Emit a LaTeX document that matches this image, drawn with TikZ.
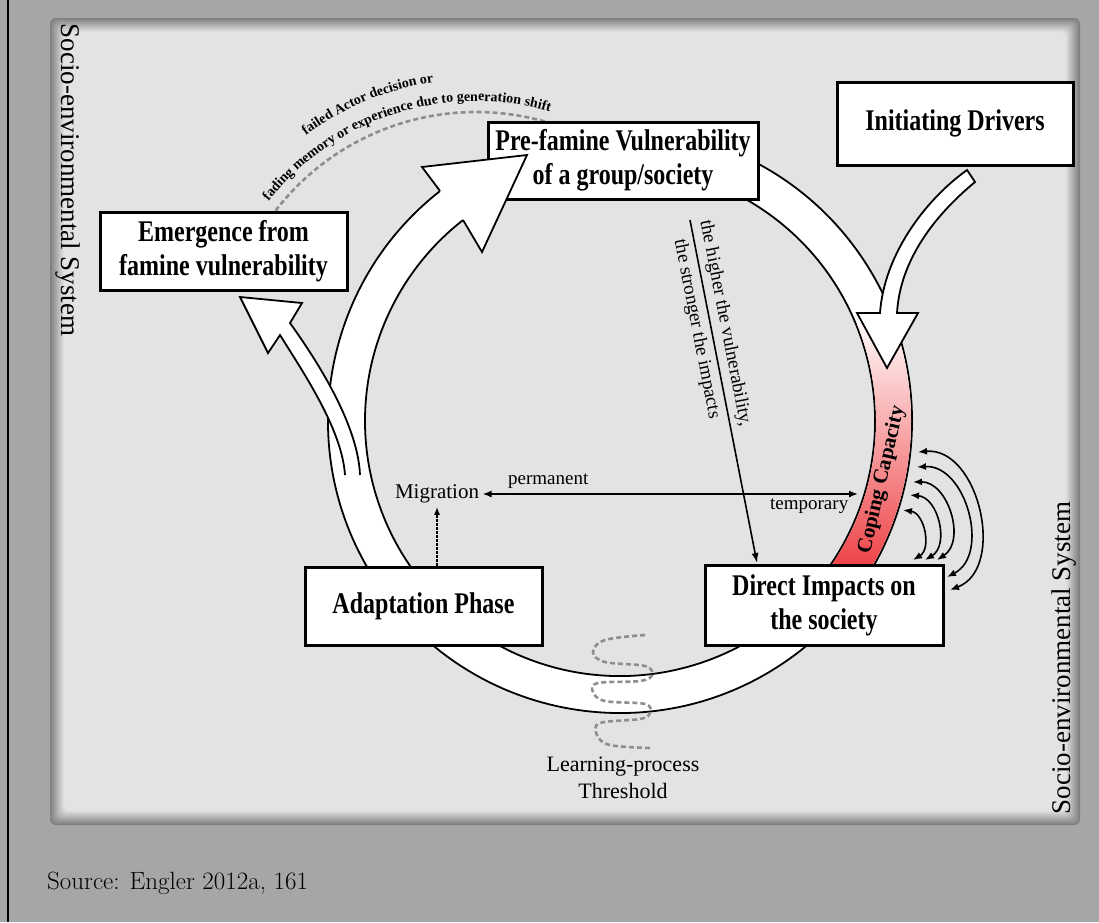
\documentclass[tikz,border=0pt]{standalone}
\usepackage{fontspec}
\newfontfamily\tnr{Liberation Serif}
\newfontfamily\boxfont[FakeStretch=0.8]{Liberation Serif}
\usetikzlibrary{arrows.meta,decorations.text,positioning}

\definecolor{framegray}{HTML}{A6A6A6}
\definecolor{coilgray}{HTML}{8E8E8E}
\definecolor{copered}{HTML}{EC2B2F}
\definecolor{copepink}{HTML}{F4A3A6}

\newcommand\curvefont{\tnr\bfseries\fontsize{14}{16}\selectfont}

\tikzset{
  phase/.style={draw, line width=3pt, fill=white, font=\boxfont\bfseries\fontsize{30}{34}\selectfont, align=center, inner sep=0pt},
  band/.style={draw, line width=1.8pt, fill=white},
  thin arrow/.style={line width=1.6pt, -{Latex[length=10pt,width=7pt]}},
  both arrow/.style={line width=1.6pt, {Latex[length=9pt,width=7pt]}-{Latex[length=9pt,width=7pt]}},
  dotted arrow/.style={line width=1.6pt, dash pattern=on 2.5pt off 1.5pt, -{Latex[length=8pt,width=6pt]}},
  dashgray/.style={draw=coilgray, line width=2.6pt, dash pattern=on 5pt off 3pt},
  small/.style={font=\tnr\fontsize{19}{21}\selectfont}
}

\begin{document}
\begin{tikzpicture}[x=1pt,y=-1pt]
\useasboundingbox (0,0) rectangle (1099,922);

% background and panel
\fill[framegray] (0,0) rectangle (1099,922);
\draw[line width=1.5pt] (8,0) -- (8,922);
\foreach \i in {0,...,14}{
  \pgfmathsetmacro\k{50-2.8*\i}
  \fill[black!\k, rounded corners=6pt] (50+\i,18+\i) rectangle (1080-\i,825-\i);
}

% the cycle ring
\filldraw[band] (620,421) ++(-125:292) arc[start angle=-125, end angle=-465, radius=292]
  -- ++(-465:-37) arc[start angle=-465, end angle=-125, radius=255] -- cycle;

% coping capacity part of the ring
\shade[top color=white, middle color=copepink, bottom color=copered]
  (620,421) ++(-22:291) arc[start angle=-22, end angle=38, radius=291]
  -- ++(38:-35) arc[start angle=38, end angle=-22, radius=256] -- cycle;

% branch arrow to emergence
\filldraw[band] (345,475) .. controls (342,430) and (305,375) .. (280,335) -- (268,353) -- (240,297)
  -- (302,303) -- (290,323) .. controls (318,362) and (358,425) .. (360,475);

% initiating drivers arrow
\filldraw[band] (880,313) .. controls (884,255) and (925,200) .. (967,170) -- (975,182)
  .. controls (935,215) and (900,260) .. (897,313) -- (918,313) -- (887,368) -- (857,313) -- cycle;

% learning threshold coil
\draw[dashgray] plot[smooth, tension=0.6] coordinates {(645,635) (605,640) (593,652) (605,662) (645,666)
  (652,675) (640,681) (598,683) (593,692) (605,701) (645,704) (650,713) (640,719) (600,723)
  (597,735) (610,745) (650,748)};

% generation shift
\begin{scope}[shift={(476,365)}]
  \draw[dashgray] (-142.4:253) coordinate (genstart) arc[start angle=-142.4, end angle=-74, radius=253] coordinate (genend);
  \path[decorate, decoration={text along path, text align=center,
    text={|\curvefont|fading memory or experience due to generation shift}}]
    (-147.8:264) arc[start angle=-147.8, end angle=-67.8, radius=264];
  \path[decorate, decoration={text along path, text align=center,
    text={|\curvefont|failed Actor decision or}}]
    (-142.5:286) arc[start angle=-142.5, end angle=-82.5, radius=286];
\end{scope}

% phases
\node[phase, minimum width=270pt, minimum height=77pt] (prefamine) at (623,160.5) {Pre-famine Vulnerability\\of a group/society};
\node[phase, minimum width=236pt, minimum height=83pt] (drivers) at (955,123.5) {Initiating Drivers};
\node[phase, minimum width=247pt, minimum height=78pt] (emergence) at (223.5,251) {Emergence from\\famine vulnerability};
\node[phase, minimum width=237pt, minimum height=78pt] (adapt) at (423.5,606) {Adaptation Phase};
\node[phase, minimum width=238pt, minimum height=80pt] (impacts) at (824,605) {Direct Impacts on\\the society};

% head of the big arrow
\filldraw[band] (440,191) -- (422,167) -- (527,155) -- (482,252) -- (463,220);

% vulnerability -> impacts
\coordinate (vulnfrom) at (690,220);
\coordinate (vulnto) at (757,563);
\draw[thin arrow] (vulnfrom) -- (vulnto)
  node[pos=0.31, sloped, above=4pt, small, inner sep=1pt] (higher) {the higher the vulnerability,}
  node[pos=0.31, sloped, below=4pt, small, inner sep=1pt] (stronger) {the stronger the impacts};

% migration
\node[font=\tnr\fontsize{21}{23}\selectfont] (migration) at (437,494) {Migration};
\draw[dotted arrow] (adapt.north -| migration) -- (migration.south);
\coordinate (cope) at (858,494);
\draw[both arrow] (migration.east) -- (cope)
  node[pos=0.175, above=5pt, small, inner sep=0pt] (perm) {permanent}
  node[pos=0.87, below=4pt, small, inner sep=0pt] (temp) {temporary};

% coping feedback arrows
\foreach \n/\a/\b/\c/\d/\bend in {1/903/510/913/560/70, 2/910/495/925/560/72, 3/913/482/937/560/74,
    4/917/467/947/577/78, 5/918/452/950/590/82}{
  \coordinate (cap\n) at (\a,\b);
  \coordinate (imp\n) at (\c,\d);
  \draw[both arrow] (cap\n) to[bend left=\bend, looseness=1.1] (imp\n);
}

% labels
\node[font=\tnr\bfseries\fontsize{21}{23}\selectfont, rotate=77] (coping) at (882,480) {Coping Capacity};
\node[font=\tnr\fontsize{22}{27}\selectfont, align=center] (threshold) at (623,778) {Learning-process\\Threshold};
\node[font=\tnr\fontsize{27}{30}\selectfont, rotate=-90] (leftsys) at (68,180) {Socio-environmental System};
\node[font=\tnr\fontsize{27}{30}\selectfont, rotate=90] (rightsys) at (1064,658) {Socio-environmental System};
\node[font=\fontsize{25}{30}\selectfont, anchor=west, inner sep=0pt] (source) at (47,883) {Source: Engler 2012a, 161};
\end{tikzpicture}
\end{document}
